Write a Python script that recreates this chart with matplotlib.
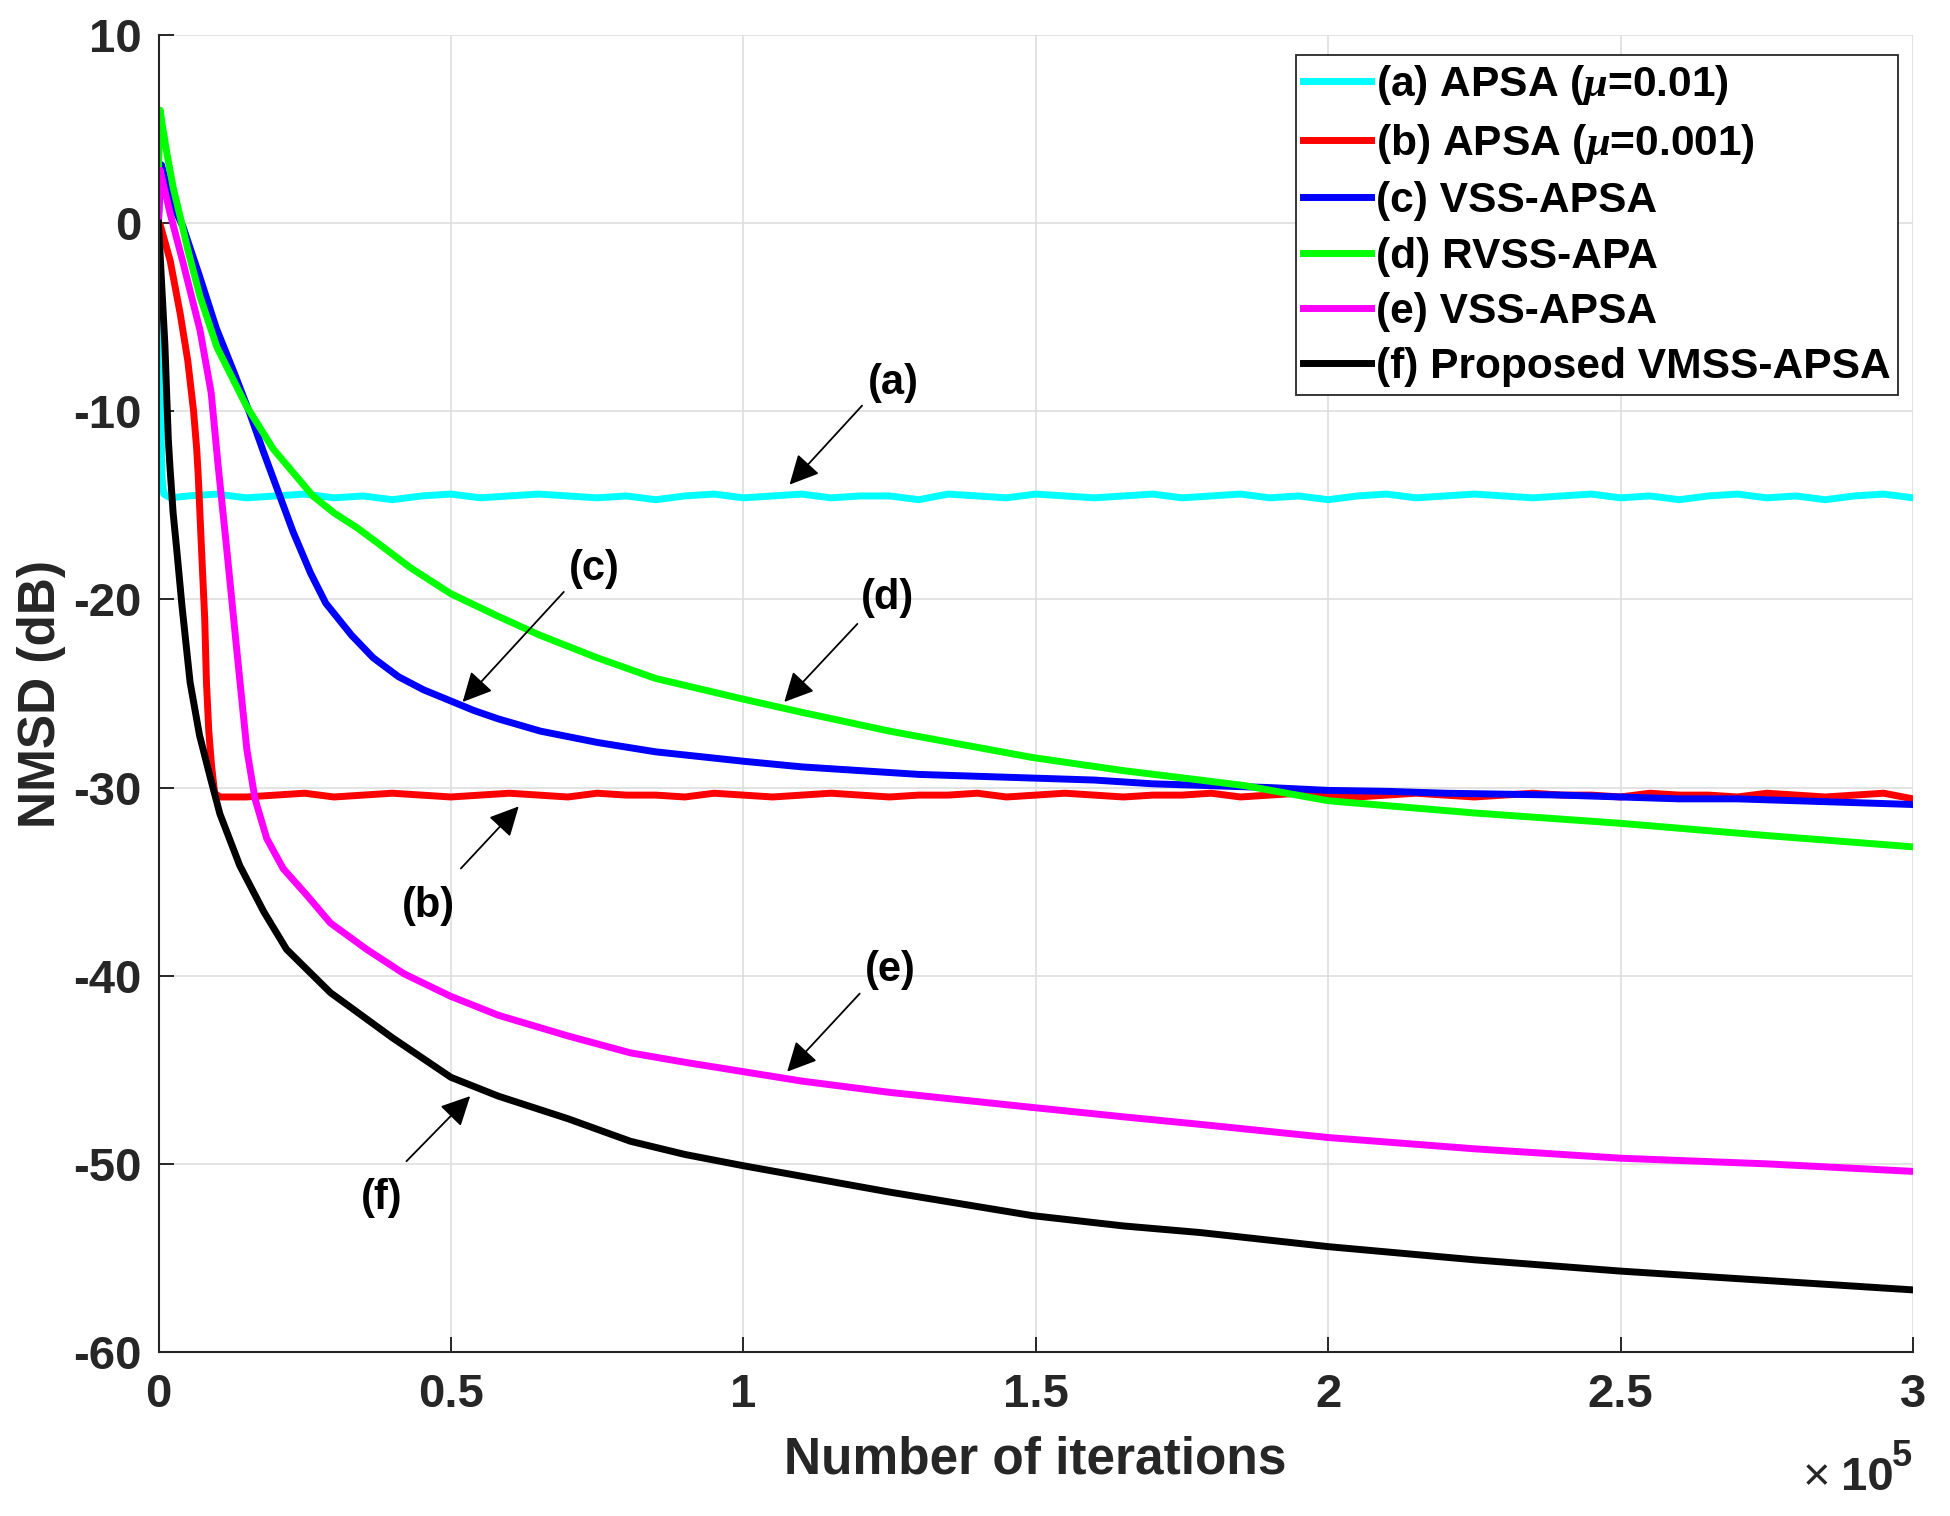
"""NMSD learning curves of the APSA family (MATLAB-style figure)."""

import matplotlib

matplotlib.use("Agg")
import matplotlib.pyplot as plt
from matplotlib.ticker import FuncFormatter, MultipleLocator

# ----- data (x in units of 1e5 iterations, y in dB) -----
# sample positions every 0.05e5 iterations for the noisy steady-state parts
GRID = [round(0.05 * k, 2) for k in range(1, 61)]

a_head_x = [0, 0.002, 0.004, 0.006, 0.009, 0.02]
a_head_y = [0, -5.0, -10.0, -13.5, -14.4, -14.6]
a_tail_y = [-14.5, -14.4, -14.6, -14.5, -14.4, -14.6, -14.5, -14.7, -14.5, -14.4,
            -14.6, -14.5, -14.4, -14.5, -14.6, -14.5, -14.7, -14.5, -14.4, -14.6,
            -14.5, -14.4, -14.6, -14.5, -14.5, -14.7, -14.4, -14.5, -14.6, -14.4,
            -14.5, -14.6, -14.5, -14.4, -14.6, -14.5, -14.4, -14.6, -14.5, -14.7,
            -14.5, -14.4, -14.6, -14.5, -14.4, -14.5, -14.6, -14.5, -14.4, -14.6,
            -14.5, -14.7, -14.5, -14.4, -14.6, -14.5, -14.7, -14.5, -14.4, -14.6]
a_x = a_head_x + GRID
a_y = a_head_y + a_tail_y

b_head_x = [0, 0.003, 0.02, 0.037, 0.05, 0.06, 0.0653, 0.068, 0.0735, 0.079, 0.082,
            0.086, 0.0906, 0.096, 0.105]
b_head_y = [0, -0.1, -2.0, -4.8, -7.3, -10.0, -12.0, -13.45, -17.3, -21.0, -24.4,
            -27.0, -28.8, -30.3, -30.5]
b_tail_y = [-30.5, -30.4, -30.3, -30.5, -30.4, -30.3, -30.4, -30.5, -30.4, -30.3,
            -30.4, -30.5, -30.3, -30.4, -30.4, -30.5, -30.3, -30.4, -30.5, -30.4,
            -30.3, -30.4, -30.5, -30.4, -30.4, -30.3, -30.5, -30.4, -30.3, -30.4,
            -30.5, -30.4, -30.4, -30.3, -30.5, -30.4, -30.3, -30.4, -30.5, -30.4,
            -30.3, -30.4, -30.5, -30.4, -30.3, -30.4, -30.4, -30.5, -30.3, -30.4,
            -30.4, -30.5, -30.3, -30.4, -30.5, -30.4, -30.3, -30.6]
b_x = b_head_x + GRID[2:]
b_y = b_head_y + b_tail_y

c_x = [0, 0.003, 0.005, 0.01, 0.02, 0.03, 0.042, 0.07, 0.099, 0.13, 0.156,
       0.18, 0.205, 0.23, 0.26, 0.286, 0.33, 0.367, 0.41, 0.453, 0.5, 0.539,
       0.581, 0.653, 0.75, 0.85, 1.0, 1.1, 1.2, 1.3, 1.4, 1.5, 1.6, 1.7, 1.8,
       1.9, 2.0, 2.1, 2.2, 2.3, 2.4, 2.5, 2.6, 2.7, 2.8, 2.9, 3.0]
c_y = [0, 2.6, 3.1, 2.5, 1.4, 0.6, -0.2, -2.8, -5.6, -8.0, -10.1,
       -12.2, -14.3, -16.4, -18.6, -20.2, -21.9, -23.1, -24.1, -24.8, -25.4, -25.9,
       -26.35, -27.0, -27.6, -28.1, -28.6, -28.9, -29.1, -29.3, -29.4, -29.5, -29.6, -29.8, -29.9,
       -30.0, -30.15, -30.2, -30.3, -30.35, -30.4, -30.5, -30.6, -30.6, -30.7, -30.8, -30.9]

d_x = [0, 0.003, 0.006, 0.015, 0.025, 0.037, 0.05, 0.071, 0.1, 0.15, 0.196,
       0.264, 0.3, 0.34, 0.379, 0.43, 0.5, 0.581, 0.652, 0.75, 0.85, 1.0,
       1.1, 1.25, 1.494, 1.65, 1.781, 1.858, 2.0, 2.25, 2.5, 2.75, 3.0]
d_y = [3.0, 6.0, 5.3, 3.6, 1.9, 0.35, -1.4, -3.9, -6.6, -9.7, -12.0,
       -14.5, -15.4, -16.2, -17.1, -18.3, -19.7, -20.9, -21.9, -23.1, -24.2, -25.3,
       -26.0, -27.0, -28.4, -29.1, -29.6, -29.9, -30.7, -31.35, -31.9, -32.55, -33.15]

e_x = [0, 0.003, 0.008, 0.02, 0.042, 0.071, 0.09, 0.102, 0.1166, 0.1337,
       0.151, 0.165, 0.185, 0.213, 0.253, 0.294, 0.356, 0.42, 0.5, 0.581, 0.7,
       0.807, 0.9, 1.0, 1.1, 1.25, 1.494, 1.65, 1.781, 2.0, 2.25, 2.5, 2.75, 3.0]
e_y = [0.3, 2.8, 2.1, 0.5, -2.1, -5.7, -9.0, -12.9, -17.3, -22.65,
       -27.96, -30.6, -32.7, -34.3, -35.7, -37.2, -38.6, -39.9, -41.1, -42.1, -43.2,
       -44.1, -44.6, -45.1, -45.6, -46.2, -47.0, -47.5, -47.9, -48.6, -49.2, -49.7, -50.0, -50.4]

f_x = [0, 0.005, 0.011, 0.0168, 0.0197, 0.025, 0.031, 0.04, 0.054, 0.07, 0.088,
       0.105, 0.139, 0.18, 0.219, 0.294, 0.4, 0.5, 0.581, 0.7, 0.807, 0.9, 1.0,
       1.25, 1.494, 1.65, 1.781, 2.0, 2.25, 2.5, 2.75, 3.0]
f_y = [0, -3.0, -6.5, -11.5, -13.0, -15.4, -17.3, -20.3, -24.4, -27.2, -29.4,
       -31.4, -34.15, -36.6, -38.6, -40.9, -43.3, -45.4, -46.4, -47.6, -48.8, -49.5, -50.1,
       -51.5, -52.75, -53.3, -53.65, -54.4, -55.1, -55.7, -56.2, -56.7]

SERIES = [
    (a_x, a_y, "#00FFFF", r"(a) APSA ($\mu$=0.01)"),
    (b_x, b_y, "#FF0000", r"(b) APSA ($\mu$=0.001)"),
    (c_x, c_y, "#0000FF", "(c) VSS-APSA"),
    (d_x, d_y, "#00FF00", "(d) RVSS-APA"),
    (e_x, e_y, "#FF00FF", "(e) VSS-APSA"),
    (f_x, f_y, "#000000", "(f) Proposed VMSS-APSA"),
]

# label text position, arrow tail, arrow head (data coords)
LABELS = [
    ("(a)", (1.256, -8.5), (1.203, -9.7), (1.079, -13.9)),
    ("(c)", (0.746, -18.4), (0.693, -19.6), (0.520, -25.45)),
    ("(d)", (1.247, -19.95), (1.195, -21.3), (1.070, -25.45)),
    ("(b)", (0.462, -36.3), (0.517, -34.3), (0.616, -31.0)),
    ("(e)", (1.251, -39.7), (1.199, -40.95), (1.075, -45.1)),
    ("(f)", (0.382, -51.8), (0.424, -49.86), (0.533, -46.4)),
]

W, H = 1950, 1516
AX_L, AX_R, AX_T, AX_B = 158.5, 1913, 35, 1352
INK = "#262626"


def main() -> None:
    plt.rcParams["font.family"] = ["Liberation Sans", "DejaVu Sans"]
    plt.rcParams["font.weight"] = "bold"
    plt.rcParams["axes.unicode_minus"] = False
    plt.rcParams["mathtext.fontset"] = "custom"
    plt.rcParams["mathtext.rm"] = "Liberation Sans:bold"
    plt.rcParams["mathtext.bf"] = "Liberation Sans:bold"
    plt.rcParams["mathtext.it"] = "Liberation Serif:italic"

    fig = plt.figure(figsize=(W / 100, H / 100), dpi=100)
    ax = fig.add_axes([AX_L / W, 1 - AX_B / H, (AX_R - AX_L) / W, (AX_B - AX_T) / H])

    for xs, ys, col, lab in SERIES:
        ax.plot(xs, ys, color=col, linewidth=5.0, label=lab, solid_joinstyle="round")

    ax.set_xlim(0, 3)
    ax.set_ylim(-60, 10)
    ax.xaxis.set_major_locator(MultipleLocator(0.5))
    ax.yaxis.set_major_locator(MultipleLocator(10))
    ax.xaxis.set_major_formatter(FuncFormatter(lambda v, p: f"{v:g}"))
    ax.yaxis.set_major_formatter(FuncFormatter(lambda v, p: f"{v:g}"))

    ax.grid(True, color="#dedede", linewidth=1.2)
    ax.set_axisbelow(True)
    for side in ("top", "right"):
        ax.spines[side].set_visible(False)
    for side in ("left", "bottom"):
        ax.spines[side].set_color(INK)
        ax.spines[side].set_linewidth(1.5)
    ax.tick_params(axis="both", direction="in", length=11, width=1.4, color=INK,
                   labelsize=34, labelcolor=INK)
    ax.tick_params(axis="x", pad=15)
    ax.tick_params(axis="y", pad=12)

    ax.set_xlabel("Number of iterations", fontsize=37, fontweight="bold", color=INK)
    ax.set_ylabel("NMSD (dB)", fontsize=37, fontweight="bold", color=INK)
    ax.xaxis.set_label_coords(0.5, (AX_B - 1436) / (AX_B - AX_T))
    ax.yaxis.set_label_coords((66 - AX_L) / (AX_R - AX_L), 0.5)

    # MATLAB-style exponent under the right end of the x axis
    fig.text(1817 / W, 1 - 1490 / H, "\u00d7", fontsize=34, fontweight="normal",
             color=INK, ha="center", va="baseline")
    fig.text(1841 / W, 1 - 1490 / H, "10", fontsize=34, color=INK, ha="left", va="baseline")
    fig.text(1892 / W, 1 - 1466 / H, "5", fontsize=26, color=INK, ha="left", va="baseline")

    for txt, pos, tail, head in LABELS:
        ax.text(pos[0], pos[1], txt, fontsize=30, fontweight="bold", color="black",
                ha="center", va="center")
        ax.annotate("", xy=head, xytext=tail,
                    arrowprops=dict(arrowstyle="-|>,head_length=0.6,head_width=0.3",
                                    color="black", linewidth=1.3, mutation_scale=30,
                                    shrinkA=0, shrinkB=0))

    leg = ax.legend(loc="upper right",
                    bbox_to_anchor=((1898 - AX_L) / (AX_R - AX_L), (AX_B - 55) / (AX_B - AX_T)),
                    fontsize=30.6, frameon=True, fancybox=False, framealpha=1.0,
                    borderpad=0.18, handlelength=1.6, handletextpad=0.1,
                    labelspacing=0.36, borderaxespad=0.0)
    leg.get_frame().set_edgecolor(INK)
    leg.get_frame().set_linewidth(1.3)
    for line in leg.get_lines():
        line.set_linewidth(5.0)

    fig.savefig("out.png", dpi=100)
    plt.close(fig)


if __name__ == "__main__":
    main()
